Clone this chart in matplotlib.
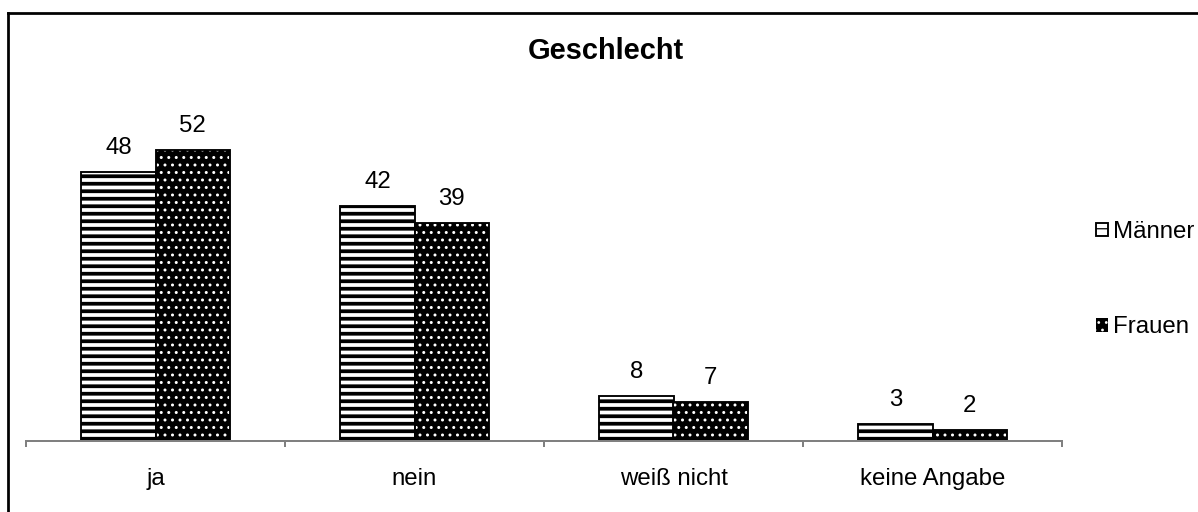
import matplotlib
matplotlib.use('Agg')
import matplotlib.pyplot as plt
import numpy as np
from matplotlib.lines import Line2D

# survey answers split by gender (percent)
categories = ['ja', 'nein', 'weiß nicht', 'keine Angabe']
maenner = [48, 42, 8, 3]
frauen = [52, 39, 7, 2]
series_names = ['Männer', 'Frauen']
title = 'Geschlecht'

plt.rcParams['font.family'] = ['Liberation Sans', 'DejaVu Sans']

DPI = 90
W, H = 1198, 512
fig = plt.figure(figsize=(W / DPI, H / DPI), dpi=DPI)
fig.patch.set_facecolor('white')

# plot area in pixel units of the figure
ax_left, ax_right, ax_base = 26, 1062, 441
ymax = 60
px_per_unit = 5.6
ax = fig.add_axes([ax_left / W, 1 - ax_base / H,
                   (ax_right - ax_left) / W, ymax * px_per_unit / H])

x = np.arange(len(categories))
bw = 0.286
fs = 24 * 72 / DPI

with plt.rc_context({'hatch.linewidth': 3.0}):
    b1 = ax.bar(x - bw / 2, maenner, bw, facecolor='white', edgecolor='black',
                hatch='--', linewidth=1.5, label=series_names[0])
with plt.rc_context({'hatch.linewidth': 1.2}):
    b2 = ax.bar(x + bw / 2, frauen, bw, facecolor='black', edgecolor='white',
                hatch='..', linewidth=0, label=series_names[1])
ax.bar(x + bw / 2, frauen, bw, facecolor='none', edgecolor='black', linewidth=1.5)

for bars, vals in ((b1, maenner), (b2, frauen)):
    for rect, v in zip(bars, vals):
        ax.annotate(str(v), (rect.get_x() + rect.get_width() / 2, v),
                    xytext=(0, 18 * 72 / DPI), textcoords='offset points',
                    ha='center', va='baseline', fontsize=fs)

ax.set_xlim(-0.5, len(categories) - 0.5)
ax.set_ylim(0, ymax)
for s in ('top', 'right', 'left'):
    ax.spines[s].set_visible(False)
ax.spines['bottom'].set_color('#808080')
ax.spines['bottom'].set_linewidth(1.6)
ax.set_yticks([])
ax.set_xticks(x)
ax.set_xticklabels(categories, fontsize=fs)
ax.set_xticks(np.arange(len(categories) + 1) - 0.5, minor=True)
ax.tick_params(axis='x', which='major', length=0, pad=27 * 72 / DPI)
ax.tick_params(axis='x', which='minor', length=6 * 72 / DPI, width=1.6,
               color='#808080', direction='out')

fig.text(606 / W, 1 - 59 / H, title, ha='center', va='baseline',
         fontsize=29 * 72 / DPI, fontweight='bold')

fig.legend(handles=[b1, b2], labels=series_names, loc='upper left',
           bbox_to_anchor=(1096 / W, 1 - 221 / H), frameon=False,
           fontsize=fs, handlelength=0.5, handleheight=0.5,
           handletextpad=0.2, labelspacing=3.05, borderpad=0, borderaxespad=0)

# outer chart frame
fig.add_artist(Line2D([7.5 / W, 7.5 / W], [0, 1 - 12.5 / H], color='black',
                      linewidth=2.2, transform=fig.transFigure))
fig.add_artist(Line2D([7.5 / W, 1], [1 - 12.5 / H, 1 - 12.5 / H], color='black',
                      linewidth=2.2, transform=fig.transFigure))

fig.savefig('out.png', dpi=DPI)
